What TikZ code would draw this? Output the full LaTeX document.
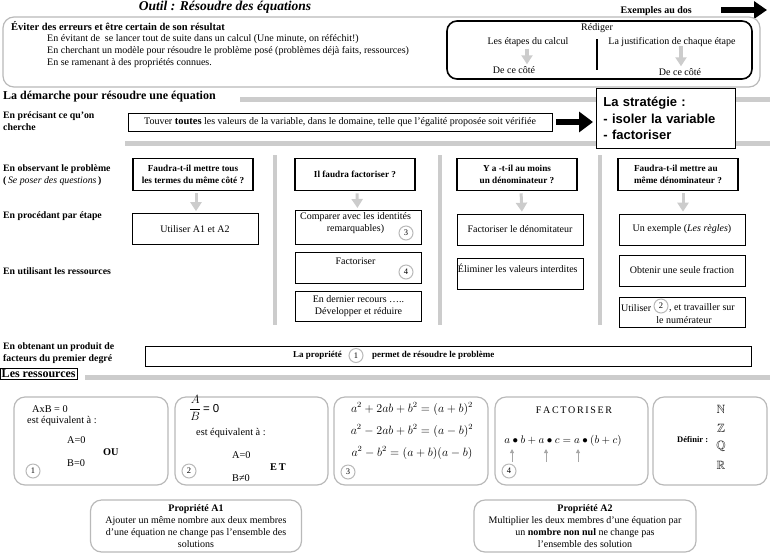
\documentclass[tikz,border=0pt]{standalone}
\usepackage{amsmath,amssymb}
\usepackage{fontspec}
\setmainfont{Liberation Serif}
\setsansfont{Liberation Sans}
\usetikzlibrary{arrows.meta}
\definecolor{bargrey}{RGB}{204,204,204}
\definecolor{framegrey}{RGB}{185,185,185}
\tikzset{
  bar/.style={draw=bargrey,line width=5pt},
  greyframe/.style={draw=framegrey,line width=1.2pt,rounded corners=11pt},
  qbox/.style={draw,fill=white,line width=1.6pt,minimum width=120pt,minimum height=32pt,align=center,inner sep=2pt,font=\fontsize{9.2}{11.5}\selectfont\bfseries},
  stepbox/.style={draw,fill=white,line width=0.6pt,minimum width=126pt,minimum height=31pt,align=center,inner sep=1pt},
  boxtxt/.style={anchor=north,inner sep=0pt,align=center},
  rowlab/.style={anchor=north west,align=left,inner sep=0pt,font=\fontsize{9.8}{12}\selectfont\bfseries},
  num/.style={circle,draw=framegrey,line width=1pt,fill=white,minimum size=14pt,inner sep=0pt,font=\fontsize{8.5}{8}\selectfont},
  garrow/.style={draw=bargrey,line width=3pt,-{Triangle[length=9pt,width=11pt]},shorten <=2pt,shorten >=2pt},
  bigarrow/.style={line width=6pt,-{Triangle[length=14pt,width=20pt]}},
  resbox/.style={greyframe,minimum height=88pt},
  restxt/.style={anchor=west,inner sep=0pt,font=\fontsize{10.3}{12}\selectfont},
  propbox/.style={greyframe,minimum height=52pt,align=center,font=\fontsize{10}{12}\selectfont}
}
\begin{document}
\begin{tikzpicture}[x=1pt,y=-1pt,font=\fontsize{10}{12}\selectfont]
  \useasboundingbox (0,0) rectangle (770,555);

  % bandes grises
  \draw[bar] (240,99) -- (770,99);
  \draw[bar] (125,143) -- (770,143);
  \foreach \bx in {275,440,600}
    \draw[bar,line width=4pt] (\bx,155) -- (\bx,325);
  \draw[bar] (85,377) -- (770,377);

  % ================= en-tete =================
  \node[font=\fontsize{13.5}{15}\selectfont\bfseries\itshape] (titre) at (225,7) {Outil : Résoudre des équations};
  \node[anchor=east,inner sep=0pt,font=\fontsize{10}{12}\selectfont\bfseries] (dos) at (692,11) {Exemples au dos};
  \coordinate (dosA) at (721,10);
  \coordinate (dosB) at (767,10);
  \draw[line width=6pt,-{Triangle[length=13pt,width=17pt]}] (dosA) -- (dosB);

  \draw[greyframe] (3,17) rectangle (760,87);
  \node[anchor=west,inner sep=0pt,font=\fontsize{10.5}{12}\selectfont\bfseries] (but) at (11,26) {Éviter des erreurs et être certain de son résultat};
  \node[anchor=north west,align=left,inner sep=0pt] (moyens) at (47,34)
    {En évitant de\ \ se lancer tout de suite dans un calcul (Une minute, on réféchit!)\\
     En cherchant un modèle pour résoudre le problème posé (problèmes déjà faits, ressources)\\
     En se ramenant à des propriétés connues.};

  % Rediger
  \node[draw,line width=1.6pt,rounded corners=10pt,minimum width=305pt,minimum height=58pt] (rediger) at (599.5,50) {};
  \node[inner sep=0pt] (redtxt) at (597,28) {Rédiger};
  \node[inner sep=0pt] (etapes) at (528,42) {Les étapes du calcul};
  \node[inner sep=0pt] (justif) at (672,42) {La justification de chaque étape};
  \node[inner sep=0pt] (cote1) at (514,70) {De ce côté};
  \node[inner sep=0pt] (cote2) at (680,72) {De ce côté};
  \coordinate (sepA) at (597,39);
  \coordinate (sepB) at (597,70);
  \draw[line width=1.5pt] (sepA) -- (sepB);
  \draw[garrow,line width=3.5pt] ([xshift=-1pt]etapes.south) -- ([xshift=13pt]cote1.north);
  \draw[garrow,line width=3.5pt] ([xshift=9pt,yshift=3pt]justif.south) -- ([xshift=1pt]cote2.north);

  % ================= la demarche =================
  \node[anchor=west,inner sep=0pt,font=\fontsize{12}{14}\selectfont\bfseries] (demarche) at (3,97) {La démarche pour résoudre une équation};

  \node[rowlab] (lab1) at (3,111) {En précisant ce qu'on\\cherche};
  \node[draw,fill=white,line width=0.6pt,minimum width=424pt,minimum height=18pt,inner sep=1pt] (cherche) at (340,122)
    {Touver \textbf{\fontsize{10.5}{12}\selectfont toutes} les valeurs de la variable, dans le domaine,\ telle que l'égalité proposée soit vérifiée};
  \node[draw,fill=white,line width=0.8pt,anchor=north west,minimum width=135pt,minimum height=60pt,text width=125pt,align=left,inner xsep=7pt,font=\sffamily\bfseries\fontsize{13}{16.5}\selectfont] (strat) at (596,88)
    {La stratégie :\\- isoler la variable\\- factoriser};
  \draw[bigarrow,shorten <=4pt,shorten >=3pt] (cherche) -- (strat.west |- cherche);

  \node[rowlab] (lab2) at (3,164) {En observant le problème\\(\,{\normalfont\itshape Se poser des questions}\,)};
  \node[rowlab] (lab3) at (3,211) {En procédant par étape};
  \node[rowlab] (lab4) at (3,267) {En utilisant les ressources};
  \node[rowlab] (lab5) at (3,342) {En obtenant un produit de\\facteurs du premier degré};

  % colonne 1
  \node[qbox] (q1) at (193,174.5) {Faudra-t-il mettre tous\\les termes du même côté ?};
  \node[stepbox] (s11) at (195,229) {Utiliser A1 et A2};
  \draw[garrow] ([xshift=3pt]q1.south) -- ([xshift=1pt]s11.north);

  % colonne 2
  \node[qbox] (q2) at (355,174.5) {Il faudra factoriser ?};
  \node[stepbox,minimum height=34pt,anchor=north] (s21) at (358.5,210) {};
  \node[boxtxt] (t21) at ([xshift=-3pt,yshift=-2pt]s21.north) {Comparer avec les identités\\remarquables)};
  \node[stepbox,anchor=north] (s22) at (358.5,252) {};
  \node[boxtxt] (t22) at ([xshift=-3pt,yshift=-6pt]s22.north) {Factoriser};
  \node[stepbox,minimum height=30pt,anchor=north] (s23) at (358.5,291) {En dernier recours …..\\Développer et réduire};
  \node[num] (c3) at (406,233) {3};
  \node[num] (c4) at (406,272) {4};
  \draw[garrow] ([xshift=2pt]q2.south) -- ([xshift=-1pt]s21.north);

  % colonne 3
  \node[qbox] (q3) at (517,174.5) {Y a -t-il au moins\\un dénominateur ?};
  \node[stepbox] (s31) at (520,229.5) {Factoriser le dénomitateur};
  \node[stepbox,anchor=north] (s32) at (520,258) {};
  \node[anchor=north west,inner sep=0pt] (t32) at ([xshift=1pt,yshift=-6pt]s32.north west) {Éliminer les valeurs interdites};
  \draw[garrow] ([xshift=4pt]q3.south) -- ([xshift=2pt]s31.north);

  % colonne 4
  \node[qbox,align=left] (q4) at (678,174.5) {Faudra-t-il mettre au\\même dénominateur ?};
  \node[stepbox] (s41) at (682,229.5) {Un exemple ({\itshape Les règles})};
  \node[stepbox] (s42) at (682,270.5) {Obtenir une seule fraction};
  \node[stepbox,minimum height=30pt] (s43) at (682,312) {};
  \node[anchor=west,inner sep=0pt] (t43a) at (621,308) {Utiliser};
  \node[num] (c2) at (661,306) {2};
  \node[anchor=west,inner sep=0pt] (t43b) at (669,308) {, et travailler sur};
  \node[inner sep=0pt] (t43c) at (684,320.5) {le numérateur};
  \draw[garrow] ([xshift=5pt]q4.south) -- ([xshift=1pt]s41.north);

  % produit de facteurs
  \node[draw,fill=white,line width=0.6pt,minimum width=606pt,minimum height=20pt] (produit) at (448,356.5) {};
  \node[num] (c1) at (356,355.5) {1};
  \node[anchor=east,font=\fontsize{9}{11}\selectfont\bfseries,inner sep=0pt] (propA) at ([xshift=-14pt]c1.center) {La propriété};
  \node[anchor=west,font=\fontsize{9}{11}\selectfont\bfseries,inner sep=0pt] (propB) at ([xshift=16pt]c1.center) {permet de résoudre le problème};

  % ================= les ressources =================
  \node[draw,line width=0.5pt,anchor=north west,inner sep=1.5pt,font=\fontsize{12}{14}\selectfont\bfseries] (ress) at (0,368) {Les ressources};

  \node[resbox,minimum width=154pt] (r1) at (91,441) {};
  \node[resbox,minimum width=153pt] (r2) at (251.5,441) {};
  \node[resbox,minimum width=154pt] (r3) at (411,441) {};
  \node[resbox,minimum width=153pt] (r4) at (571.5,441) {};
  \node[resbox,minimum width=114pt] (r5) at (710,441) {};

  % 1
  \node[restxt] (r1a) at (32,409) {AxB = 0};
  \node[restxt] (r1b) at (27,421) {est équivalent à :};
  \node[restxt] (r1c) at (67,440) {A=0};
  \node[restxt,font=\fontsize{10.3}{12}\selectfont\bfseries] (r1d) at (103,452) {OU};
  \node[restxt] (r1e) at (67,463) {B=0};
  \node[num] (n1) at (33,471) {1};
  % 2
  \node[restxt,font=\fontsize{11.5}{13}\selectfont] (r2a) at (189,408) {$\dfrac{A}{B}$\,{\sffamily = 0}};
  \node[restxt] (r2b) at (196,433) {est équivalent à :};
  \node[restxt] (r2c) at (232,455) {A=0};
  \node[restxt,font=\fontsize{10.3}{12}\selectfont\bfseries] (r2d) at (270,467) {E\,T};
  \node[restxt] (r2e) at (232,478) {B≠0};
  \node[num] (n2) at (189,471) {2};
  % 3
  \node[inner sep=0pt,font=\fontsize{12}{14}\selectfont] (r3a) at (412,409) {$a^2+2ab+b^2=(a+b)^2$};
  \node[inner sep=0pt,font=\fontsize{12}{14}\selectfont] (r3b) at (412,431) {$a^2-2ab+b^2=(a-b)^2$};
  \node[inner sep=0pt,font=\fontsize{12}{14}\selectfont] (r3c) at (412,453) {$a^2-b^2=(a+b)(a-b)$};
  \node[num] (n3) at (348,472) {3};
  % 4
  \node[inner sep=0pt] (r4a) at (574,410) {F\,A\,C\,T\,O\,R\,I\,S\,E\,R};
  \node[inner sep=0pt,font=\fontsize{11}{13}\selectfont] (r4b) at (563,441) {$a\bullet b+a\bullet c=a\bullet(b+c)$};
  \foreach \ax/\nm in {512/u1,546/u2,578/u3}{
    \coordinate (\nm a) at (\ax,462);
    \coordinate (\nm b) at (\ax,449);
    \draw[draw=gray!70,line width=0.8pt,-{Triangle[length=4pt,width=4pt]}] (\nm a) -- (\nm b);
  }
  \node[num] (n4) at (509,471) {4};
  % 5
  \node[anchor=west,inner sep=0pt,font=\fontsize{8.5}{10}\selectfont\bfseries] (r5a) at (677,440) {Définir :};
  \node[inner sep=0pt,font=\fontsize{12}{14}\selectfont] (setN) at (721,409) {$\mathbb{N}$};
  \node[inner sep=0pt,font=\fontsize{12}{14}\selectfont] (setZ) at (721,428) {$\mathbb{Z}$};
  \node[inner sep=0pt,font=\fontsize{12}{14}\selectfont] (setQ) at (721,446) {$\mathbb{Q}$};
  \node[inner sep=0pt,font=\fontsize{12}{14}\selectfont] (setR) at (721,465) {$\mathbb{R}$};

  % proprietes A1, A2
  \node[propbox,minimum width=211pt] (propA1) at (196,526)
    {\textbf{Propriété A1}\\Ajouter un même nombre aux deux membres\\d'une équation ne change pas l'ensemble des\\solutions};
  \node[propbox,minimum width=222pt] (propA2) at (585,526)
    {\textbf{Propriété A2}\\Multiplier les deux membres d'une équation par\\un \textbf{nombre non nul} ne change pas\\l'ensemble des solution};
\end{tikzpicture}
\end{document}
